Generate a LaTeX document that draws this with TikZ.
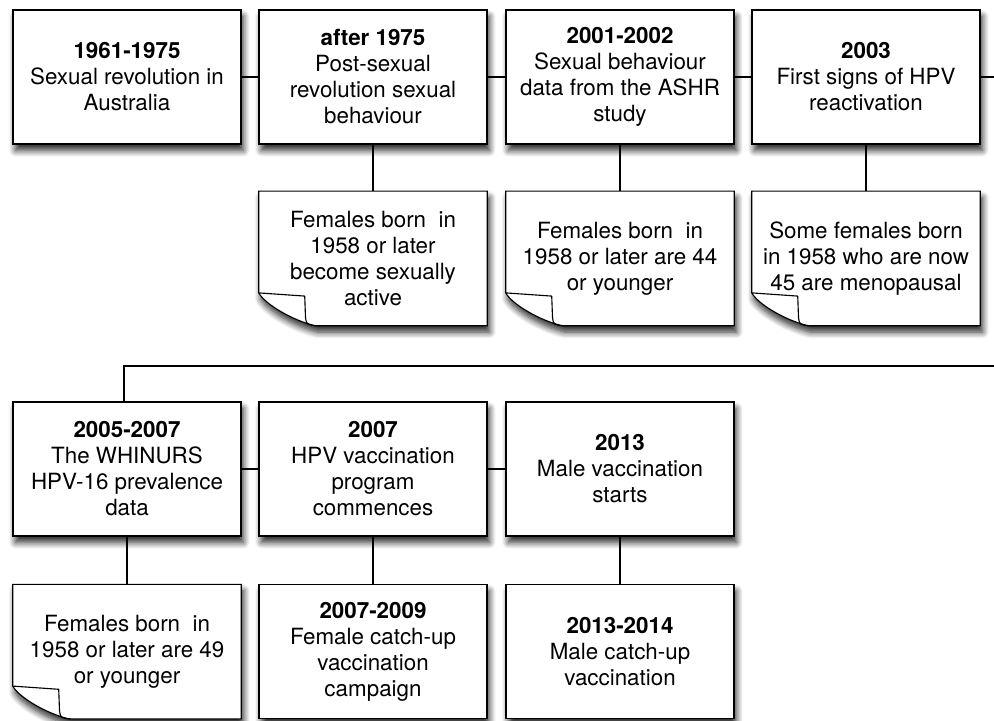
\documentclass[tikz,border=0pt]{standalone}
\usepackage{fontspec}
\setmainfont{TeX Gyre Heros}
\usepackage{tikz}
\usetikzlibrary{shadows.blur, backgrounds}

\newcommand{\notepath}[1]{(#1.north west) -- (#1.north east) -- (#1.south east) -- ([xshift=1.4cm]#1.south west) .. controls ([xshift=0.8cm,yshift=0.15cm]#1.south west) and ([xshift=0.15cm,yshift=0.55cm]#1.south west) .. ([yshift=0.82cm]#1.south west) -- cycle}
\newcommand{\notefold}[1]{([yshift=0.82cm]#1.south west) -- ([xshift=1.15cm,yshift=0.74cm]#1.south west) -- ([xshift=1.17cm,yshift=0.2cm]#1.south west) .. controls ([xshift=1.2cm,yshift=0.02cm]#1.south west) .. ([xshift=1.45cm]#1.south west)}

\begin{document}
\begin{tikzpicture}[
    every node/.style={font=\fontsize{15.9}{18.5}\selectfont, align=center},
    shade/.style={blur shadow={shadow xshift=0.06cm, shadow yshift=-0.16cm, shadow blur radius=0.16cm, shadow blur steps=8, shadow opacity=85}},
    event/.style={draw, fill=white, line width=0.8pt, minimum width=5.7cm, minimum height=3.35cm, shade},
    note/.style={minimum width=5.7cm, minimum height=3.35cm, inner sep=0pt},
    link/.style={line width=0.8pt}
]
\useasboundingbox (0,0) rectangle (24.85,-18);

\node[event] (b1961) at (3.175,-1.925) {\textbf{1961-1975}\\Sexual revolution in\\Australia};
\node[event] (b1975) at (9.325,-1.925) {\textbf{after 1975}\\Post-sexual\\revolution sexual\\behaviour};
\node[event] (b2001) at (15.5,-1.925) {\textbf{2001-2002}\\Sexual behaviour\\data from the ASHR\\study};
\node[event] (b2003) at (21.65,-1.925) {\textbf{2003}\\First signs of HPV\\reactivation};

\node[note] (n1975) at (9.325,-6.46) {Females born\ \ in\\1958 or later\\become sexually\\active};
\node[note] (n2001) at (15.5,-6.46) {Females born\ \ in\\1958 or later are 44\\or younger};
\node[note] (n2003) at (21.65,-6.46) {Some females born\\in 1958 who are now\\45 are menopausal};

\node[event] (b2005) at (3.175,-11.725) {\textbf{2005-2007}\\The WHINURS\\HPV-16 prevalence\\data};
\node[event] (b2007) at (9.325,-11.725) {\textbf{2007}\\HPV vaccination\\program\\commences};
\node[event] (b2013) at (15.5,-11.725) {\textbf{2013}\\Male vaccination\\starts};

\node[note] (n2005) at (3.175,-16.29) {Females born\ \ in\\1958 or later are 49\\or younger};
\node[event] (b2009) at (9.325,-16.29) {\textbf{2007-2009}\\Female catch-up\\vaccination\\campaign};
\node[event] (b2014) at (15.5,-16.29) {\textbf{2013-2014}\\Male catch-up\\vaccination};

\begin{scope}[on background layer]
\foreach \n in {n1975, n2001, n2003, n2005}
    \fill[white, shade] \notepath{\n};
\end{scope}
\foreach \n in {n1975, n2001, n2003, n2005} {
    \draw[link] \notepath{\n};
    \draw[link, line join=round] \notefold{\n};
}

\coordinate (rowend) at (24.85,-1.925);
\coordinate (wrapend) at (24.85,-9.15);
\coordinate (wrapturn) at (3.1,-9.15);

\draw[link] (b1961) -- (b1975);
\draw[link] (b1975) -- (b2001);
\draw[link] (b2001) -- (b2003);
\draw[link] (b2003) -- (rowend);
\draw[link] (b1975) -- (n1975);
\draw[link] (b2001) -- (n2001);
\draw[link] (b2003) -- (n2003);

\draw[link] (wrapend) -- (wrapturn) -- (wrapturn |- b2005.north);
\draw[link] (b2005) -- (b2007);
\draw[link] (b2007) -- (b2013);
\draw[link] (b2005) -- (n2005);
\draw[link] (b2007) -- (b2009);
\draw[link] (b2013) -- (b2014);

\end{tikzpicture}
\end{document}
